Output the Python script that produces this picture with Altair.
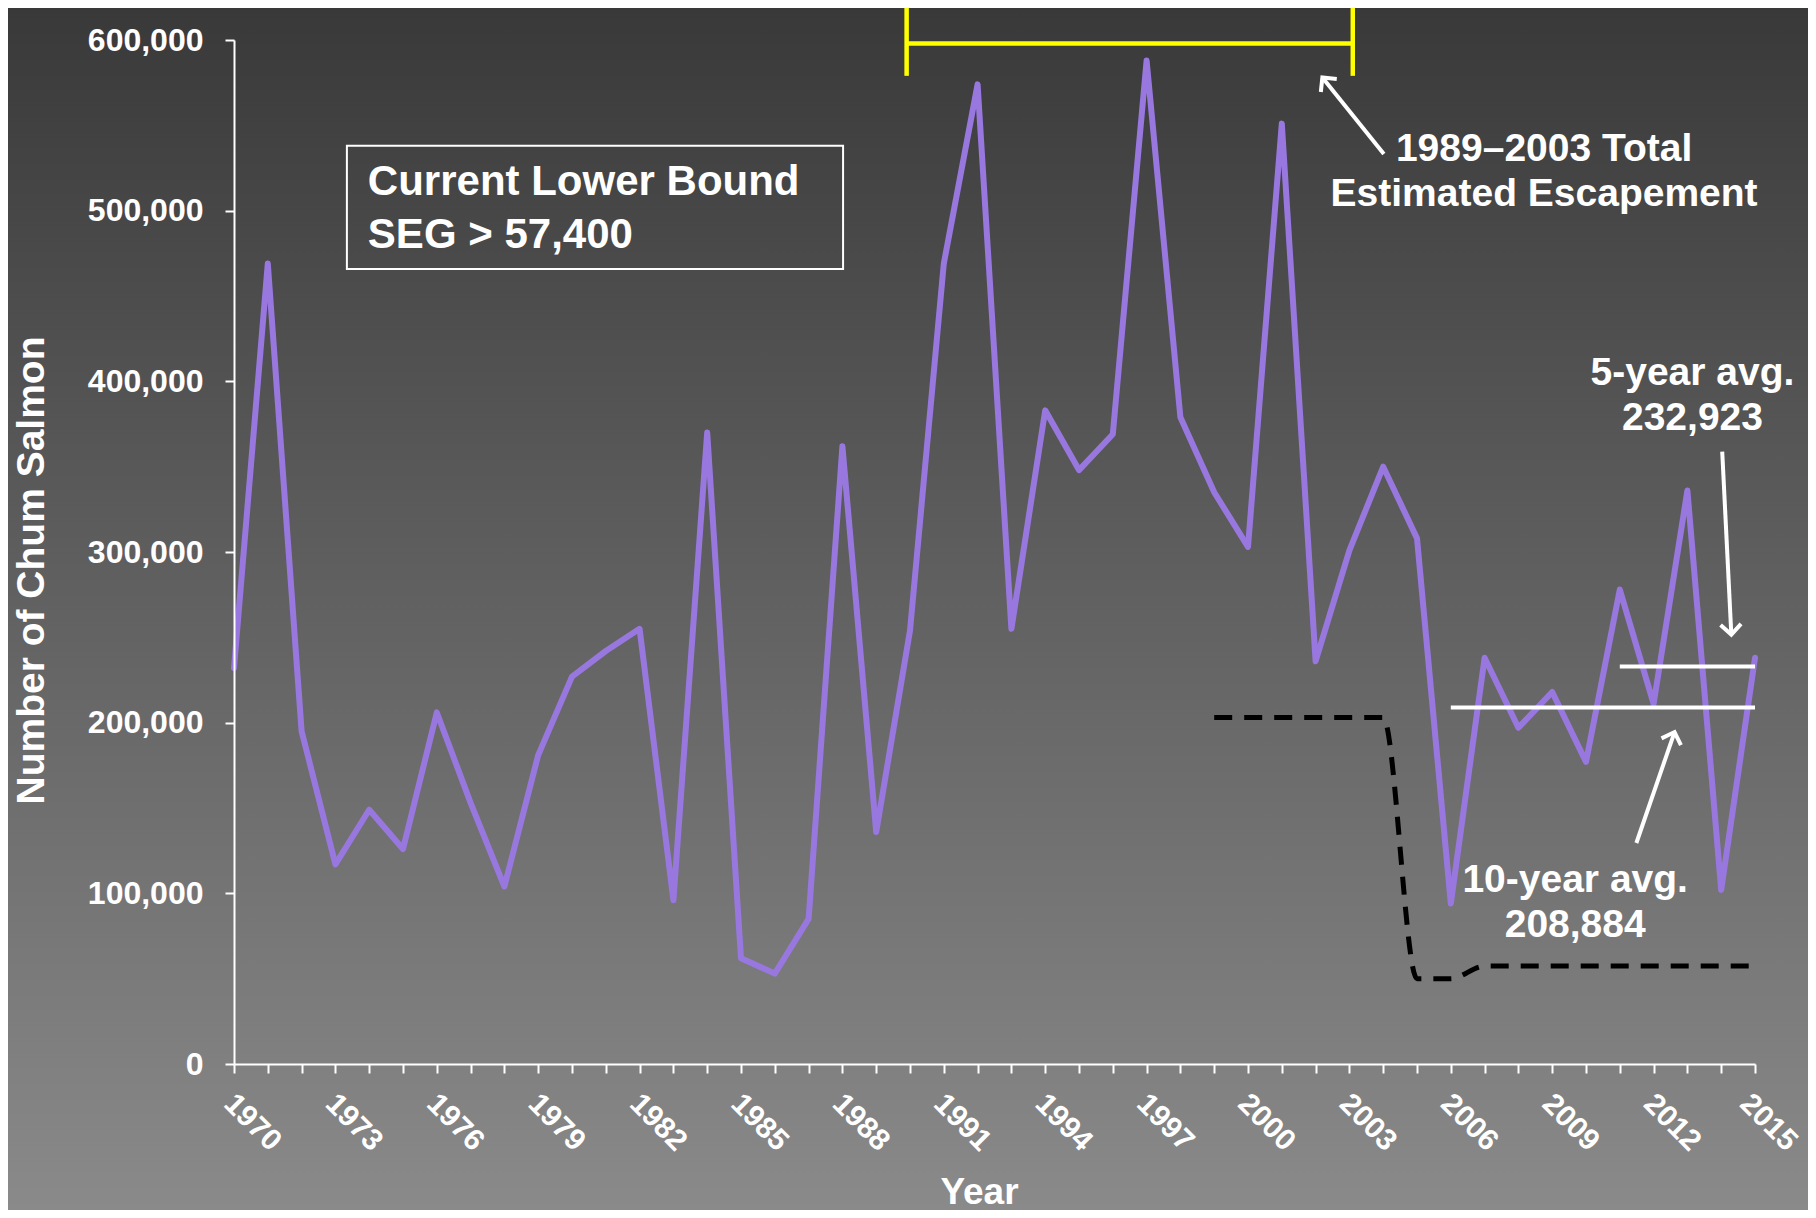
import altair as alt
import pandas as pd

# ---------------- data ----------------
years = list(range(1970, 2016))
chum = [232000, 469000, 195000, 117000, 149000, 126000, 206000, 153000, 104000, 181000,
        227000, 242000, 255000, 96000, 370000, 62000, 53000, 85000, 362000, 136000,
        254000, 469000, 574000, 255000, 383000, 348000, 369000, 588000, 379000, 335000,
        303000, 551000, 236000, 301000, 350000, 308000, 94000, 238000, 197000, 218000,
        177000, 278000, 211000, 336000, 102000, 238000]

goal_years = [1999, 2000, 2001, 2002, 2003, 2004, 2005, 2006, 2007, 2008, 2009, 2010,
              2011, 2012, 2013, 2014, 2015]
goal_vals = [203000, 203000, 203000, 203000, 203000, 203000, 50000, 50000, 57400, 57400,
             57400, 57400, 57400, 57400, 57400, 57400, 57400]

avg_start = [2006, 2011]
avg_end = [2015, 2015]
avg_vals = [208884, 232923]

y_ticks = [0, 100000, 200000, 300000, 400000, 500000, 600000]

# bracket over 1989-2003
br_x0, br_x1, br_y, br_lo, br_hi = 1989.9, 2003.1, 598000, 579000, 620000

# text box
box_x0, box_x1, box_y0, box_y1 = 1973.34, 1988.02, 465800, 538000
box_lines = ["Current Lower Bound", "SEG > 57,400"]
box_lx = [1973.96, 1973.96]
box_ly = [509200, 478100]

note_text = ["1989\u20132003 Total", "Estimated Escapement", "5-year avg.", "232,923",
             "10-year avg.", "208,884"]
note_x = [2008.76, 2008.76, 2013.15, 2013.15, 2009.68, 2009.68]
note_y = [535900, 509500, 405000, 378500, 107800, 81400]

arr_x0 = [2004.02, 2014.03, 2011.49]
arr_y0 = [533200, 358800, 129500]
arr_x1 = [2002.2, 2014.3, 2012.62]
arr_y1 = [578000, 251600, 194500]
arr_ang = [321, 177, 19]

# ---------------- chart ----------------
W, H = 1521, 1024
PL, PT, PR, PB = 226, 32, 53, 146
FONT = "Liberation Sans"

xs = alt.Scale(domain=[1970, 2015], nice=False, zero=False)
ys = alt.Scale(domain=[0, 600000], nice=False)

x_axis = alt.Axis(
    values=years, format="d", zindex=1,
    labelExpr="(datum.value - 1970) % 3 == 0 ? datum.label : ''",
    labelAngle=45, labelAlign="left", labelBaseline="top", labelFontSize=30,
    labelPadding=15,
    labelOffset={"condition": {"test": "datum.value == 2015", "value": 0}, "value": 5},
    labelColor="white", labelFontWeight="bold",
    labelFont=FONT, labelOverlap=False, labelFlush=False,
    tickColor="white", tickSize=9, tickWidth=2, domainColor="white", domainWidth=2,
    grid=False, title="Year", titleFontSize=37, titleColor="white",
    titleFontWeight="bold", titleFont=FONT, titleX=745, titleY=139,
    titleAlign="center", titleBaseline="alphabetic")

y_axis = alt.Axis(
    values=y_ticks, format=",.0f", zindex=1, labelFontSize=32, labelPadding=22,
    labelColor="white", labelFontWeight="bold", labelFont=FONT, labelFlush=False,
    labelOverlap=False,
    tickColor="white", tickSize=9, tickWidth=2, domainColor="white", domainWidth=2,
    grid=False, title="Number of Chum Salmon", titleFontSize=39, titleColor="white",
    titleFontWeight="bold", titleFont=FONT, titleAngle=270, titleX=-203, titleY=530,
    titleAlign="center", titleBaseline="middle")


def X(f):
    return alt.X(f, type="quantitative", scale=xs, axis=x_axis)


def Y(f):
    return alt.Y(f, type="quantitative", scale=ys, axis=y_axis)


bg = alt.Chart(pd.DataFrame({"a": [0]})).mark_rect(
    color=alt.Gradient(
        gradient="linear",
        stops=[alt.GradientStop(color="#393939", offset=0),
               alt.GradientStop(color="#8a8a8a", offset=1)],
        x1=0, x2=0, y1=0, y2=1),
).encode(x=alt.value(-PL), x2=alt.value(W + PR), y=alt.value(-PT), y2=alt.value(H + PB))

df = pd.DataFrame({"year": years, "count": chum})

main = alt.Chart(df).mark_line(color="#9878DF", strokeWidth=6, strokeJoin="round",
                               strokeCap="round").encode(x=X("year"), y=Y("count"))

goal = alt.Chart(pd.DataFrame({"year": goal_years, "v": goal_vals})).mark_line(
    color="black", strokeWidth=5, strokeDash=[18, 12], interpolate="monotone").encode(
    x=X("year"), y=Y("v"))

avgs = alt.Chart(pd.DataFrame({"x0": avg_start, "x1": avg_end, "v": avg_vals})).mark_rule(
    color="white", strokeWidth=4).encode(x=X("x0"), x2="x1:Q", y=Y("v"))

br_h = alt.Chart(pd.DataFrame({"x0": [br_x0], "x1": [br_x1], "v": [br_y]})).mark_rule(
    color="#FFFF00", strokeWidth=4.5).encode(x=X("x0"), x2="x1:Q", y=Y("v"))

br_v = alt.Chart(pd.DataFrame({"x": [br_x0, br_x1], "lo": [br_lo, br_lo],
                               "hi": [br_hi, br_hi]})).mark_rule(
    color="#FFFF00", strokeWidth=4.5).encode(x=X("x"), y=Y("lo"), y2="hi:Q")

box = alt.Chart(pd.DataFrame({"x0": [box_x0], "x1": [box_x1], "y0": [box_y0],
                              "y1": [box_y1]})).mark_rect(
    fill="#000000", fillOpacity=0, stroke="white", strokeWidth=2).encode(
    x=X("x0"), x2="x1:Q", y=Y("y0"), y2="y1:Q")

box_txt = alt.Chart(pd.DataFrame({"t": box_lines, "x": box_lx, "y": box_ly})).mark_text(
    align="left", baseline="alphabetic", fontSize=42, fontWeight="bold", font=FONT,
    color="white").encode(x=X("x"), y=Y("y"), text="t:N")

notes = alt.Chart(pd.DataFrame({"t": note_text, "x": note_x, "y": note_y})).mark_text(
    align="center", baseline="middle", fontSize=39, fontWeight="bold", font=FONT,
    color="white").encode(x=X("x"), y=Y("y"), text="t:N")

arr_df = pd.DataFrame({"x0": arr_x0, "y0": arr_y0, "x1": arr_x1, "y1": arr_y1,
                       "ang": arr_ang})
shafts = alt.Chart(arr_df).mark_rule(color="white", strokeWidth=4).encode(
    x=X("x0"), x2="x1:Q", y=Y("y0"), y2="y1:Q")
heads = alt.Chart(arr_df).mark_point(
    shape="M-1,1L0,0L1,1", filled=False, stroke="white", strokeWidth=4, size=420,
    opacity=1, strokeJoin="miter").encode(
    x=X("x1"), y=Y("y1"), angle=alt.Angle("ang:Q", scale=None))

chart = alt.layer(bg, goal, main, avgs, br_h, br_v, box, box_txt, notes, shafts, heads).properties(
    width=W, height=H,
    autosize=alt.AutoSizeParams(type="none"),
    padding={"left": PL, "top": PT, "right": PR, "bottom": PB},
    background="#393939",
).configure_view(stroke=None).configure(font=FONT)

chart.save("out.html", embed_options={"renderer": "svg", "actions": False})
